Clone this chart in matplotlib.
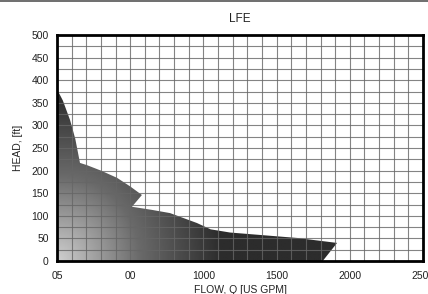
import matplotlib
matplotlib.use("Agg")
import matplotlib.pyplot as plt
import numpy as np
from matplotlib.colors import LinearSegmentedColormap
from matplotlib.patches import Polygon

plt.rcParams["font.family"] = ["Liberation Sans", "DejaVu Sans"]

# operating envelope outline (flow in US GPM, head in ft)
flow = [0, 0, 40, 89, 125, 157, 205, 300, 410, 500, 580, 512, 650, 772, 956,
        1050, 1182, 1640, 1913, 1815]
head = [0, 380, 355, 312, 270, 217, 212, 200, 184, 165, 146, 120, 113, 106, 84,
        70, 63, 51, 40, 0]

x_ticks = [0, 500, 1000, 1500, 2000, 2500]
x_labels = ["05", "00", "1000", "1500", "2000", "2500"]
y_ticks = [0, 50, 100, 150, 200, 250, 300, 350, 400, 450, 500]

W, H = 428, 294
fig = plt.figure(figsize=(W / 100, H / 100), dpi=100)
ax = fig.add_axes([57 / W, 1 - 261 / H, (423 - 57) / W, (261 - 35) / H])

ax.set_xlim(0, 2500)
ax.set_ylim(0, 500)

# shaded region: light at the origin, darker further out
gx, gy = np.meshgrid(np.linspace(0, 1, 300), np.linspace(0, 1, 200))
t = np.clip(np.sqrt((gx / 0.45) ** 2 + (gy / 0.75) ** 2), 0, 1)
cmap = LinearSegmentedColormap.from_list("shade", ["#cfcfcf", "#6a6a6a", "#2c2c2c"])
img = ax.imshow(t, extent=(0, 2500, 0, 500), origin="lower", aspect="auto",
                cmap=cmap, vmin=0, vmax=1, zorder=1, interpolation="bilinear")
poly = Polygon(np.column_stack([flow, head]), closed=True, facecolor="none",
               edgecolor="none", transform=ax.transData)
ax.add_patch(poly)
img.set_clip_path(poly)

ax.set_xticks(x_ticks)
ax.set_xticklabels(x_labels)
ax.set_yticks(y_ticks)
ax.set_xticks(np.arange(0, 2501, 100), minor=True)
ax.set_yticks(np.arange(0, 501, 25), minor=True)
ax.grid(True, which="both", color="#666666", linewidth=0.8, alpha=0.8)
ax.set_axisbelow(False)
ax.tick_params(which="both", length=0, labelsize=7.5, colors="#222222")
ax.tick_params(axis="x", pad=7)
ax.tick_params(axis="y", pad=6)

for s in ax.spines.values():
    s.set_linewidth(2)
    s.set_color("black")
    s.set_zorder(5)

ax.set_title("LFE", fontsize=8.5, pad=9, color="#222222")
ax.set_xlabel("FLOW, Q [US GPM]", fontsize=7.5, labelpad=3, color="#222222")
ax.set_ylabel("HEAD, [ft]", fontsize=7.5, labelpad=6, color="#222222")

# thin frame line across the top of the image
fig.add_artist(plt.Line2D([0, 1], [0.998, 0.998], transform=fig.transFigure,
                          color="#555555", linewidth=1.2))

fig.savefig("out.png", dpi=100)
